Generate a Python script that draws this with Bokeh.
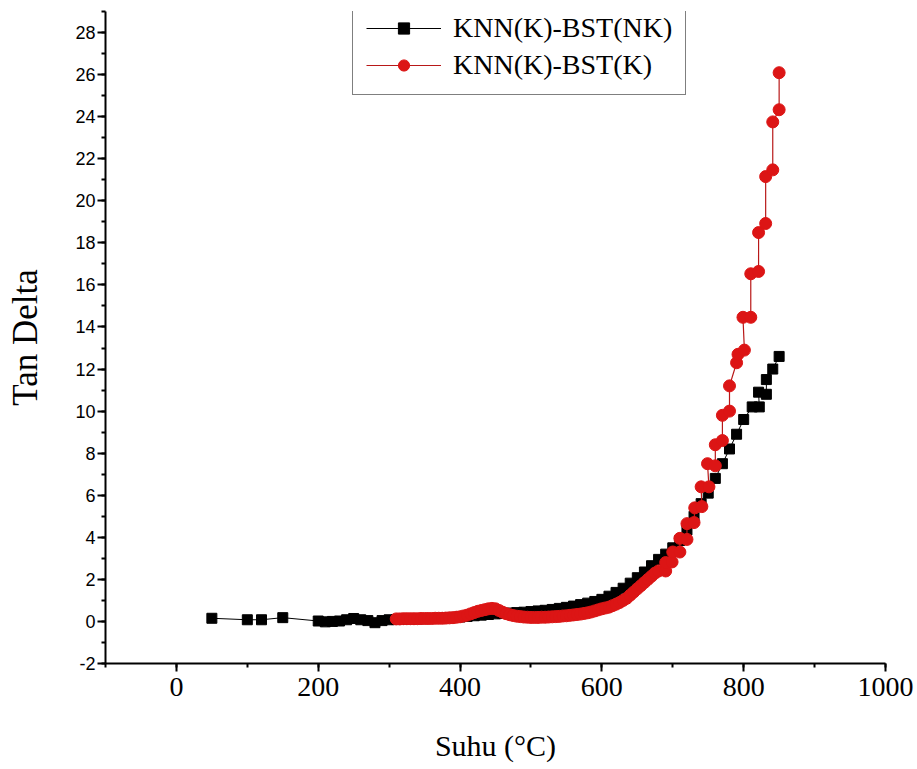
from bokeh.plotting import figure
from bokeh.models import Range1d, FixedTicker, Legend, LegendItem
from bokeh.embed import file_html
from bokeh.resources import INLINE

# Temperature (°C) and loss tangent for the non-calcined sample KNN(K)-BST(NK)
nk_temp = [50, 100, 120, 150,
           200, 210, 220, 230, 240, 250, 260, 270, 280, 290,
           300, 310, 320, 330, 340, 350, 360, 370, 380, 390,
           400, 410, 420, 430, 440, 450, 460, 470, 480, 490,
           500, 510, 520, 530, 540, 550, 560, 570, 580, 590,
           600, 610, 620, 630, 640, 650, 660, 670, 680, 690,
           700, 710, 720, 730, 740, 750, 760, 770, 780, 790,
           800, 812, 822, 821, 832, 832, 841, 850]
nk_tan = [0.15, 0.08, 0.08, 0.18,
          0.02, -0.02, 0.0, 0.02, 0.08, 0.14, 0.08, 0.04, -0.06, 0.04,
          0.08, 0.09, 0.10, 0.11, 0.12, 0.13, 0.14, 0.15, 0.17, 0.19,
          0.21, 0.24, 0.27, 0.30, 0.33, 0.36, 0.38, 0.40, 0.42, 0.44,
          0.47, 0.50, 0.53, 0.57, 0.62, 0.67, 0.73, 0.80, 0.87, 0.95,
          1.05, 1.20, 1.38, 1.58, 1.82, 2.08, 2.35, 2.65, 2.95, 3.20,
          3.50, 3.85, 4.35, 5.00, 5.60, 6.10, 6.80, 7.50, 8.20, 8.90,
          9.60, 10.20, 10.20, 10.90, 10.80, 11.50, 12.00, 12.60]

# Temperature (°C) and loss tangent for the calcined sample KNN(K)-BST(K)
k_temp = [310, 315, 320, 325, 330, 335, 340, 345, 350, 355,
          360, 365, 370, 375, 380, 385, 390, 395, 400, 405,
          410, 415, 420, 425, 430, 435, 440, 445, 450, 455,
          460, 465, 470, 475, 480, 485, 490, 495, 500, 505,
          510, 515, 520, 525, 530, 535, 540, 545, 550, 555,
          560, 565, 570, 575, 580, 585, 590, 595, 600, 605,
          610, 615, 620, 625, 630, 635, 640, 645, 650, 655,
          660, 665, 670, 675,
          680, 690, 690, 699, 700, 710, 710, 720, 720, 730,
          731, 741, 740, 751, 749, 760, 760, 770, 770, 780,
          780, 790, 792, 801, 799, 810, 810, 821, 821, 831,
          831, 841, 841, 850, 850]
k_tan = [0.12, 0.12, 0.13, 0.13, 0.13, 0.13, 0.13, 0.14, 0.14, 0.14,
         0.14, 0.15, 0.15, 0.15, 0.16, 0.17, 0.18, 0.20, 0.22, 0.26,
         0.30, 0.36, 0.42, 0.48, 0.52, 0.56, 0.60, 0.62, 0.60, 0.52,
         0.44, 0.37, 0.32, 0.28, 0.25, 0.23, 0.21, 0.20, 0.19, 0.19,
         0.19, 0.20, 0.20, 0.21, 0.22, 0.23, 0.24, 0.26, 0.27, 0.29,
         0.31, 0.33, 0.35, 0.38, 0.41, 0.45, 0.50, 0.55, 0.60, 0.64,
         0.68, 0.75, 0.82, 0.90, 1.00, 1.10, 1.25, 1.40, 1.55, 1.70,
         1.85, 2.00, 2.15, 2.30,
         2.40, 2.40, 2.80, 2.83, 3.30, 3.30, 3.95, 3.90, 4.65, 4.70,
         5.40, 5.46, 6.40, 6.40, 7.50, 7.40, 8.40, 8.60, 9.80, 10.00,
         11.20, 12.30, 12.70, 12.90, 14.46, 14.46, 16.53, 16.64, 18.49, 18.92,
         21.15, 21.47, 23.75, 24.33, 26.09]

x_ticks = [0, 200, 400, 600, 800, 1000]
y_ticks = [-2, 0, 2, 4, 6, 8, 10, 12, 14, 16, 18, 20, 22, 24, 26, 28]

SERIF = "Liberation Serif"
SANS = "Liberation Sans"
RED = "#dc1515"

p = figure(width=917, height=769, output_backend="svg", toolbar_location=None,
           x_range=Range1d(-100, 1000), y_range=Range1d(-2, 29.0),
           min_border_left=105, min_border_right=32,
           min_border_top=11, min_border_bottom=106,
           background_fill_color="white", border_fill_color="white")
p.outline_line_color = None
p.xgrid.visible = False
p.ygrid.visible = False

# Black series: thin line with square markers
nk_line = p.line(nk_temp, nk_tan, line_color="black", line_width=1)
nk_pts = p.scatter(nk_temp, nk_tan, marker="square", size=10,
                   fill_color="black", line_color="black")

# Red series drawn on top
k_line = p.line(k_temp, k_tan, line_color="#b81818", line_width=1.2)
k_pts = p.scatter(k_temp, k_tan, marker="circle", size=12,
                  fill_color=RED, line_color=RED)

xa = p.xaxis[0]
xa.ticker = FixedTicker(ticks=x_ticks, minor_ticks=list(range(-100, 1001, 100)))
xa.axis_label = "Suhu (°C)"
xa.axis_label_text_font = SERIF
xa.axis_label_text_font_size = "30px"
xa.axis_label_text_font_style = "normal"
xa.axis_label_standoff = 30
xa.major_label_text_font = SERIF
xa.major_label_text_font_size = "28px"
xa.major_label_standoff = 6

ya = p.yaxis[0]
ya.ticker = FixedTicker(ticks=y_ticks, minor_ticks=list(range(-2, 30, 1)))
ya.major_label_overrides = {-2: "-2"}
ya.axis_label = "Tan Delta"
ya.axis_label_text_font = SERIF
ya.axis_label_text_font_size = "35px"
ya.axis_label_text_font_style = "normal"
ya.axis_label_standoff = 27
ya.major_label_text_font = SANS
ya.major_label_text_font_size = "18px"
ya.major_label_standoff = 2

for ax in (xa, ya):
    ax.axis_line_width = 2
    ax.axis_line_color = "black"
    ax.major_tick_line_width = 2
    ax.minor_tick_line_width = 2
    ax.major_tick_in = 0
    ax.major_tick_out = 8
    ax.minor_tick_in = 0
    ax.minor_tick_out = 4
    ax.major_label_text_color = "black"
    ax.axis_label_text_color = "black"

legend = Legend(items=[
    LegendItem(label="KNN(K)-BST(NK)", renderers=[nk_line, nk_pts]),
    LegendItem(label="KNN(K)-BST(K)", renderers=[k_line, k_pts]),
], location=(247, 568))
legend.label_text_font = SERIF
legend.label_text_font_size = "28px"
legend.label_text_color = "black"
legend.glyph_width = 75
legend.glyph_height = 28
legend.label_height = 28
legend.label_standoff = 12
legend.spacing = 5
legend.padding = 13
legend.margin = 0
legend.border_line_color = "black"
legend.border_line_width = 1.5
legend.background_fill_alpha = 1
p.add_layout(legend, "center")

open("out.html", "w").write(file_html(p, INLINE))
